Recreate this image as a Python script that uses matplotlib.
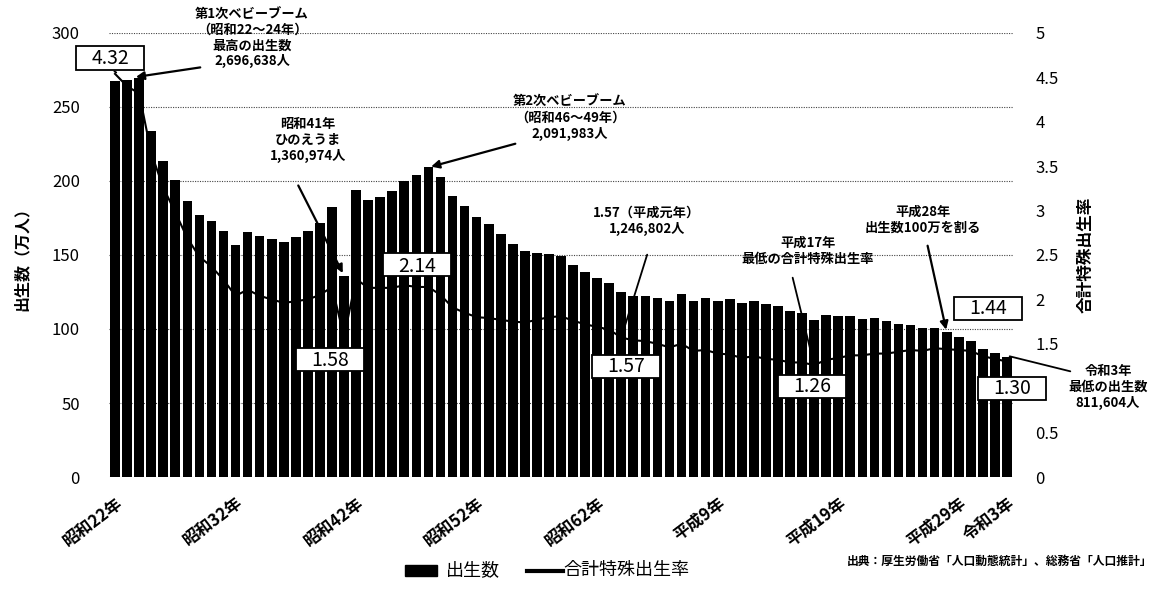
import numpy as np
import matplotlib
matplotlib.use("Agg")
import matplotlib.pyplot as plt
from matplotlib.patches import Rectangle
from matplotlib.lines import Line2D

plt.rcParams['font.family'] = ['Noto Sans CJK JP', 'DejaVu Sans']

# 出生数（万人） 昭和22年(1947)〜令和3年(2021)
births = [267.9, 268.2, 269.7, 233.8, 213.8, 200.5, 186.8, 177.0, 173.1, 166.5,
          156.7, 165.3, 162.6, 160.6, 158.9, 161.9, 166.0, 171.7, 182.4, 136.1,
          193.6, 187.2, 188.9, 193.4, 200.1, 203.9, 209.2, 203.0, 190.1, 183.3,
          175.5, 170.9, 164.3, 157.7, 152.9, 151.5, 150.9, 149.0, 143.2, 138.3,
          134.7, 131.4, 124.7, 122.2, 122.3, 120.9, 118.8, 123.8, 118.7, 120.7,
          119.2, 120.3, 117.8, 119.1, 117.1, 115.4, 112.4, 111.1, 106.3, 109.3,
          109.0, 109.1, 107.0, 107.1, 105.1, 103.7, 103.0, 100.4, 100.6, 97.7,
          94.6, 91.8, 86.5, 84.1, 81.2]
# 合計特殊出生率
tfr = [4.54, 4.40, 4.32, 3.65, 3.26, 2.98, 2.69, 2.48, 2.37, 2.22,
       2.04, 2.11, 2.04, 2.00, 1.96, 1.98, 2.00, 2.05, 2.14, 1.58,
       2.23, 2.13, 2.13, 2.13, 2.16, 2.14, 2.14, 2.05, 1.91, 1.85,
       1.80, 1.79, 1.77, 1.75, 1.74, 1.77, 1.80, 1.81, 1.76, 1.72,
       1.69, 1.66, 1.57, 1.54, 1.53, 1.50, 1.46, 1.50, 1.42, 1.43,
       1.39, 1.38, 1.34, 1.36, 1.33, 1.32, 1.29, 1.29, 1.26, 1.32,
       1.34, 1.37, 1.37, 1.39, 1.39, 1.41, 1.43, 1.42, 1.45, 1.44,
       1.43, 1.42, 1.36, 1.33, 1.30]
tick_idx = [0, 10, 20, 30, 40, 50, 60, 70, 74]
tick_labels = ['昭和22年', '昭和32年', '昭和42年', '昭和52年', '昭和62年',
               '平成9年', '平成19年', '平成29年', '令和3年']
# 枠付きで示す合計特殊出生率（年の番号）
boxed_idx = [2, 19, 25, 42, 58, 69, 74]

W, H = 1162, 589
fig = plt.figure(figsize=(W / 100, H / 100), dpi=100)
ax = fig.add_axes([109 / W, 1 - 477 / H, (1013 - 109) / W, (477 - 33) / H])
ax2 = ax.twinx()


def px(x, y):
    return (x / W, 1 - y / H)


x = np.arange(len(births))
ax.bar(x, births, width=0.8, color='black', zorder=2)
ax.set_xlim(-0.5, len(births) - 0.5)
ax.set_ylim(0, 300)
ax.set_yticks(range(0, 301, 50))
ax.yaxis.grid(True, linestyle=(0, (1, 1.2)), color='#444444', linewidth=0.8, zorder=0)
ax.set_axisbelow(True)
ax.tick_params(axis='y', length=0, labelsize=12, pad=21)
ax.set_xticks(tick_idx)
ax.set_xticklabels(tick_labels, rotation=37, ha='right', rotation_mode='anchor',
                   fontsize=12, fontweight='bold')
ax.tick_params(axis='x', length=0, pad=12)
for a in (ax, ax2):
    for s in a.spines.values():
        s.set_visible(False)
ax.set_ylabel('出生数（万人）', fontsize=11.5, fontweight='bold', labelpad=16)

ax2.plot(x, tfr, color='black', linewidth=1.5, zorder=3)
ax2.set_ylim(0, 5)
ax2.set_yticks(np.arange(0, 5.01, 0.5))
ax2.set_yticklabels(['0', '0.5', '1', '1.5', '2', '2.5', '3', '3.5', '4', '4.5', '5'])
ax2.tick_params(axis='y', length=0, labelsize=12, pad=16)
ax2.set_ylabel('合計特殊出生率', fontsize=12, fontweight='bold', labelpad=13)

box_pos = [(110, 58), (330, 359), (417, 265), (626, 366), (812, 386), (988, 308), (1012, 388)]
for i, (bx, by) in zip(boxed_idx, box_pos):
    fig.patches.append(Rectangle(px(bx - 34, by + 11.5), 68 / W, 23 / H,
                                 transform=fig.transFigure, fc='white', ec='black',
                                 lw=1.3, zorder=10, figure=fig))
    fig.text(*px(bx, by + 1), f'{tfr[i]:.2f}', fontsize=14, ha='center', va='center',
             zorder=11)

arrow = dict(arrowstyle='-|>', color='black', lw=1.6, mutation_scale=12)
plain = dict(arrowstyle='-', color='black', lw=1.3)
to2 = 60  # 合計特殊出生率 → 左軸の値
notes = [
    ('第1次ベビーブーム\n（昭和22〜24年）\n最高の出生数\n2,696,638人', (252, 38),
     (1.5, 270), (203, 67), arrow),
    ('昭和41年\nひのえうま\n1,360,974人', (308, 140), (19, births[19]), (297, 183), arrow),
    ('第2次ベビーブーム\n（昭和46〜49年）\n2,091,983人', (570, 118), (26, births[26]),
     (518, 143), arrow),
    ('1.57（平成元年）\n1,246,802人', (647, 221), (42, tfr[42] * to2), (648, 252), plain),
    ('平成17年\n最低の合計特殊出生率', (808, 251), (58, tfr[58] * to2), (792, 275), plain),
    ('平成28年\n出生数100万を割る', (923, 220), (69, births[69]), (927, 243), arrow),
    ('令和3年\n最低の出生数\n811,604人', (1108, 387), (74, tfr[74] * to2 + 4), (1073, 372), plain),
]
for txt, tpos, xy, start, style in notes:
    fig.text(*px(*tpos), txt, fontsize=9.5, fontweight='bold', ha='center', va='center',
             linespacing=1.15)
    ax.annotate('', xy=xy, xycoords='data', xytext=px(*start), textcoords='figure fraction',
                arrowprops=style, annotation_clip=False)
# 4.32 の枠から線へ
ax.annotate('', xy=(0.3, tfr[0] * to2), xycoords='data', xytext=px(112, 70),
            textcoords='figure fraction', arrowprops=plain, annotation_clip=False)

fig.text(*px(1152, 561), '出典：厚生労働省「人口動態統計」、総務省「人口推計」', fontsize=8.5,
         fontweight='bold', ha='right', va='center')

# 凡例
fig.patches.append(Rectangle(px(405, 576), 32 / W, 11 / H, transform=fig.transFigure,
                             color='black', figure=fig))
fig.text(*px(446, 570), '出生数', fontsize=13, va='center')
fig.lines.append(Line2D([527 / W, 563 / W], [1 - 571 / H] * 2, transform=fig.transFigure,
                        color='black', lw=3, figure=fig))
fig.text(*px(563, 570), '合計特殊出生率', fontsize=13, va='center')

fig.savefig('out.png', dpi=100)
